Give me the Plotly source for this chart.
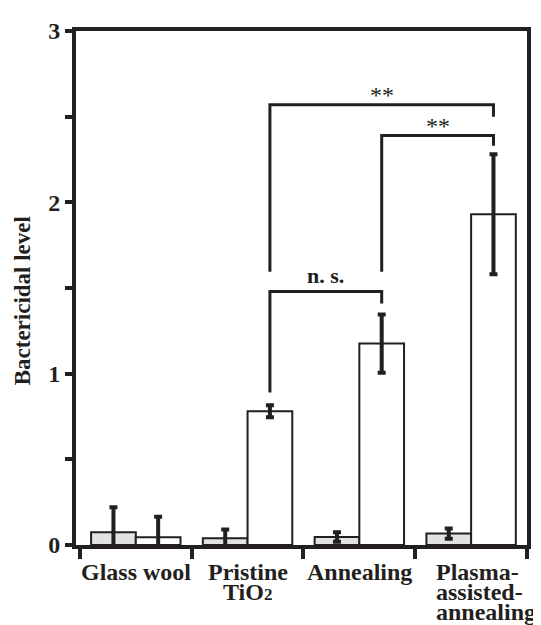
import plotly.graph_objects as go

# ---- data ----
categories = ["Glass wool", "Pristine TiO2", "Annealing", "Plasma-assisted-annealing"]
label_lines = [["Glass wool"], ["Pristine", "TiO<span style='font-size:17px'>2</span>"],
               ["Annealing"], ["Plasma-", "assisted-", "annealing"]]
control_vals = [0.075, 0.040, 0.047, 0.067]
control_err = [0.145, 0.050, 0.028, 0.030]
treated_vals = [0.045, 0.780, 1.176, 1.930]
treated_err = [0.120, 0.035, 0.170, 0.350]
y_ticks = [0, 1, 2, 3]
# significance brackets: (group a, group b, bracket height, left leg end, right leg end, label)
brackets = [
    (1, 2, 1.48, 0.89, 1.41, "n. s."),
    (1, 3, 2.57, 1.595, 2.50, "**"),
    (2, 3, 2.39, 1.595, 2.33, "**"),
]

INK = "#231f20"
FONT = "Liberation Serif"
centers = [i + 0.5 for i in range(len(categories))]

fig = go.Figure()
fig.add_trace(go.Bar(
    x=centers, y=control_vals, width=0.4, offset=-0.4,
    marker=dict(color="#e1e2e4", line=dict(color=INK, width=2)),
    error_y=dict(type="data", array=control_err, color=INK, thickness=4, width=4),
    showlegend=False,
))
fig.add_trace(go.Bar(
    x=centers, y=treated_vals, width=0.4, offset=0.0,
    marker=dict(color="white", line=dict(color=INK, width=2)),
    error_y=dict(type="data", array=treated_err, color=INK, thickness=4, width=4),
    showlegend=False,
))

annotations = []
for a, b, top, lb, rb, txt in brackets:
    xa = centers[a] + 0.2
    xb = centers[b] + 0.2
    fig.add_trace(go.Scatter(
        x=[xa, xa, xb, xb], y=[lb, top, top, rb], mode="lines",
        line=dict(color=INK, width=3), showlegend=False, hoverinfo="skip",
    ))
    bold = txt != "**"
    annotations.append(dict(
        x=(xa + xb) / 2, y=top, xref="x", yref="y", text=txt, showarrow=False,
        yanchor="bottom", yshift=(1 if bold else -5),
        font=dict(family=FONT, size=(22 if bold else 24), color=INK,
                  weight=("bold" if bold else "normal")),
    ))

for i, lines in enumerate(label_lines):
    for k, line in enumerate(lines):
        left = len(lines) == 3
        annotations.append(dict(
            x=(i + 0.166) if left else centers[i], y=0, xref="x", yref="paper",
            text=line, showarrow=False, xanchor="left" if left else "center",
            yanchor="middle", yshift=-(27 + 20 * k),
            font=dict(family=FONT, size=24, color=INK, weight="bold"),
        ))

annotations.append(dict(
    x=-0.1187, y=0.475, xref="paper", yref="paper", text="Bactericidal level",
    textangle=-90, showarrow=False, xanchor="center", yanchor="middle",
    font=dict(family=FONT, size=23, color=INK, weight="bold"),
))

fig.update_layout(
    width=533, height=617,
    margin=dict(l=68, r=10, t=15, b=80),
    paper_bgcolor="white", plot_bgcolor="white",
    barmode="overlay",
    annotations=annotations,
    xaxis=dict(
        range=[-0.035, 4], tickvals=[0, 1, 2, 3, 4], showticklabels=False,
        ticks="outside", ticklen=10, tickwidth=4, tickcolor=INK,
        showline=True, linewidth=4, linecolor=INK, mirror=True,
        showgrid=False, zeroline=False,
    ),
    yaxis=dict(
        range=[0, 3], tickvals=y_ticks, ticktext=[str(t) for t in y_ticks],
        ticks="outside", ticklen=7, tickwidth=4, tickcolor=INK,
        minor=dict(dtick=0.5, ticks="outside", ticklen=7, tickwidth=4, tickcolor=INK),
        showline=True, linewidth=4, linecolor=INK, mirror=True,
        showgrid=False, zeroline=False,
        tickfont=dict(family=FONT, size=24, color=INK, weight="bold"),
    ),
)

fig.write_html("out.html")
